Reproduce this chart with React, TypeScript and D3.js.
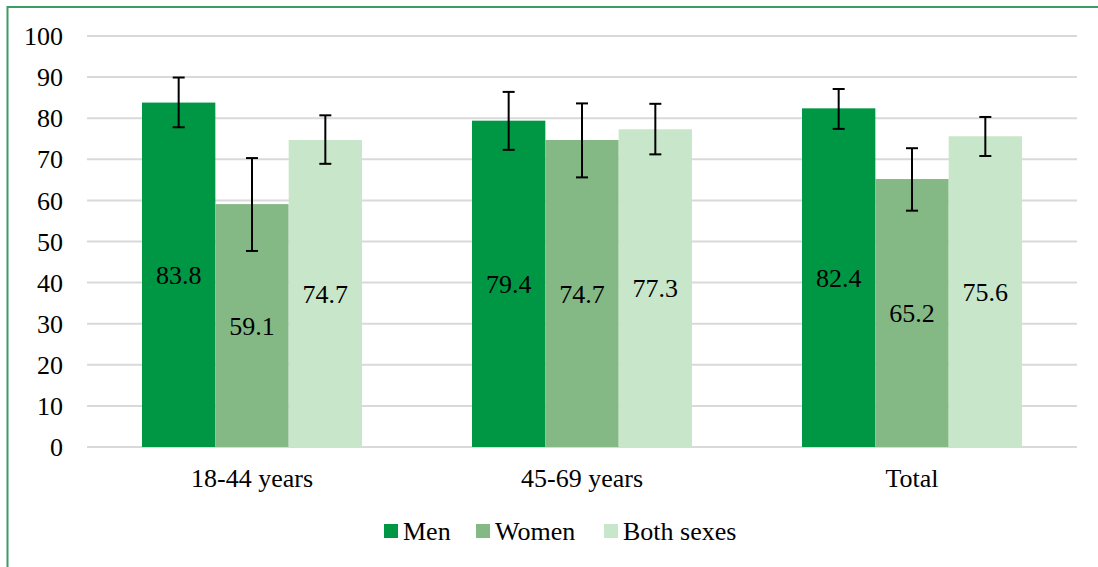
import React from "react";
import * as d3 from "d3";

const categories = ["18-44 years", "45-69 years", "Total"];
const seriesNames = ["Men", "Women", "Both sexes"];
const men = [83.8, 79.4, 82.4];
const women = [59.1, 74.7, 65.2];
const both = [74.7, 77.3, 75.6];
const menLow = [77.8, 72.3, 77.4];
const menHigh = [89.9, 86.4, 87.1];
const womenLow = [47.7, 65.6, 57.5];
const womenHigh = [70.3, 83.6, 72.7];
const bothLow = [68.9, 71.2, 70.8];
const bothHigh = [80.7, 83.5, 80.3];
const yTicks = [0, 10, 20, 30, 40, 50, 60, 70, 80, 90, 100];
const colors = ["#009744", "#84b985", "#c8e6c9"];

export default function App() {
  const W = 1098, H = 567;
  const left = 87, right = 1077, top = 36, bottom = 447;
  const x0 = d3.scaleBand().domain(categories).range([left, right]).paddingInner(1 / 3).paddingOuter(1 / 6);
  const x1 = d3.scaleBand().domain(seriesNames).range([0, x0.bandwidth()]);
  const y = d3.scaleLinear().domain([0, 100]).range([bottom, top]);
  const vals = [men, women, both];
  const lows = [menLow, womenLow, bothLow];
  const highs = [menHigh, womenHigh, bothHigh];
  const font = "'Liberation Serif', 'Times New Roman', serif";
  const legendX = [384, 476, 604];

  return (
    <svg width={W} height={H} style={{ position: "absolute", left: 0, top: 0 }} fontFamily={font}>
      <rect x={0} y={0} width={W} height={H} fill="#fff" />
      <rect x={7.5} y={7} width={W + 20} height={H + 20} fill="none" stroke="#3d9b63" strokeWidth={2} />
      {yTicks.map((t) => (
        <g key={t}>
          <line x1={left} x2={right} y1={y(t)} y2={y(t)} stroke="#d9d9d9" strokeWidth={2} />
          <text x={63} y={y(t)} dy="0.35em" textAnchor="end" fontSize={26} fill="#000">{t}</text>
        </g>
      ))}
      {categories.map((c, ci) => (
        <g key={c}>
          {seriesNames.map((s, si) => {
            const bx = (x0(c) as number) + (x1(s) as number);
            const bw = x1.bandwidth();
            const v = vals[si][ci];
            const cx = bx + bw / 2;
            return (
              <g key={s}>
                <rect x={bx} y={y(v)} width={bw} height={y(0) - y(v)} fill={colors[si]} />
                <text x={cx} y={y(v / 2)} dy="0.35em" textAnchor="middle" fontSize={26} fill="#000">{v.toFixed(1)}</text>
                <line x1={cx} x2={cx} y1={y(highs[si][ci])} y2={y(lows[si][ci])} stroke="#000" strokeWidth={2} />
                <line x1={cx - 6} x2={cx + 6} y1={y(highs[si][ci])} y2={y(highs[si][ci])} stroke="#000" strokeWidth={2} />
                <line x1={cx - 6} x2={cx + 6} y1={y(lows[si][ci])} y2={y(lows[si][ci])} stroke="#000" strokeWidth={2} />
              </g>
            );
          })}
          <text x={(x0(c) as number) + x0.bandwidth() / 2} y={478} dy="0.35em" textAnchor="middle" fontSize={26} fill="#000">{c}</text>
        </g>
      ))}
      {seriesNames.map((s, si) => (
        <g key={s}>
          <rect x={legendX[si]} y={524} width={14} height={14} fill={colors[si]} />
          <text x={legendX[si] + 19} y={531} dy="0.35em" fontSize={26} fill="#000">{s}</text>
        </g>
      ))}
    </svg>
  );
}
